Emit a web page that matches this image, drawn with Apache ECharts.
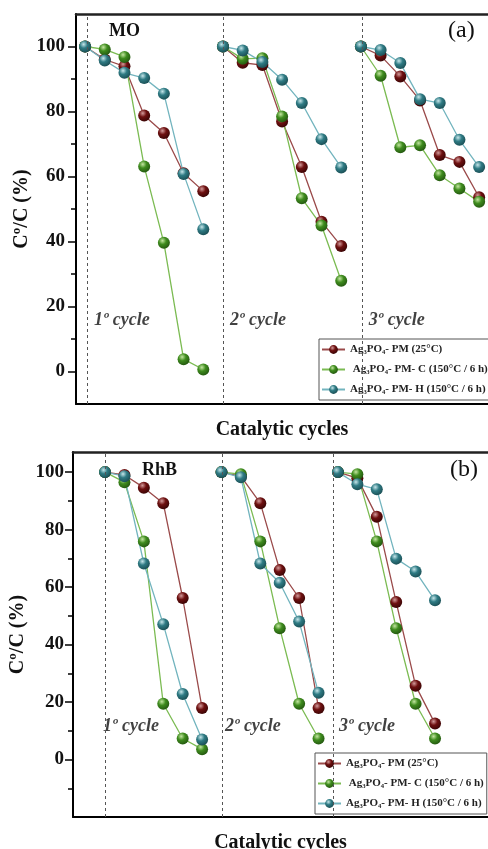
<!DOCTYPE html>
<html>
<head>
<meta charset="utf-8">
<script src="https://cdn.jsdelivr.net/npm/echarts@6/dist/echarts.min.js"></script>
<style>
html,body{margin:0;padding:0;background:#fff;}
#chart{width:488px;height:849px;}
</style>
</head>
<body>
<div id="chart"></div>
<script>
// ---------- DATA ----------
const seriesNames = ['Ag\u2083PO\u2084- PM (25\u00b0C)', ' Ag\u2083PO\u2084- PM- C (150\u00b0C / 6 h)', 'Ag\u2083PO\u2084- PM- H (150\u00b0C / 6 h)'];
const cycleLabels = ['1\u00ba cycle', '2\u00ba cycle', '3\u00ba cycle'];
const yMajorTicks = [0, 20, 40, 60, 80, 100];
const yMinorTicksTop = [10, 30, 50, 70, 90];
const yMinorTicksBottom = [-10, 10, 30, 50, 70, 90];

// Panel (a) MO — 7 points per cycle
const moPM = [[100, 96, 93.9, 78.8, 73.4, 61.0, 55.5], [100, 95.0, 94.3, 76.9, 62.9, 46.1, 38.6], [100, 97.2, 90.8, 83.4, 66.6, 64.5, 53.6]];
const moC  = [[100, 99.1, 96.8, 63.1, 39.6, 3.8, 0.6], [100, 96.2, 96.4, 78.5, 53.3, 44.9, 27.9], [100, 91.0, 69.0, 69.6, 60.4, 56.3, 52.2]];
const moH  = [[100, 95.7, 91.9, 90.3, 85.5, 60.8, 43.8], [100, 98.8, 95.2, 89.8, 82.6, 71.5, 62.8], [100, 98.9, 94.9, 83.8, 82.6, 71.3, 62.9]];

// Panel (b) RhB — 6 points per cycle
const rhbPM = [[100, 99.0, 94.6, 89.2, 56.2, 17.9], [100, 98.5, 89.2, 65.9, 56.2, 17.9], [100, 97.9, 84.5, 54.8, 25.7, 12.5]];
const rhbC  = [[100, 96.5, 75.9, 19.4, 7.3, 3.6], [100, 99.3, 75.9, 45.7, 19.4, 7.3], [100, 99.3, 75.9, 45.7, 19.4, 7.3]];
const rhbH  = [[100, 98.6, 68.2, 47.1, 22.8, 7.0], [100, 98.2, 68.2, 61.5, 48.0, 23.2], [100, 95.8, 94.0, 69.9, 65.4, 55.4]];

// ---------- BUILD ----------
const FONT = '"Liberation Serif", "Times New Roman", serif';
function buildData(cycles, n) {
  const out = [];
  cycles.forEach((vals, c) => {
    vals.forEach((v, k) => out.push([c * n + k, v]));
    if (c < cycles.length - 1) out.push([c * n + n - 0.5, '-']);
  });
  return out;
}
function sphere(base, light, dark) {
  return {type: 'radial', x: 0.38, y: 0.32, r: 0.7,
    colorStops: [{offset: 0, color: light}, {offset: 0.45, color: base}, {offset: 1, color: dark}]};
}
const styles = [
  {ball: sphere('#6e1010', '#d39a9a', '#3a0505'), line: '#9a4a4a'},
  {ball: sphere('#3f8c1e', '#c3e6a0', '#245810'), line: '#7bbb52'},
  {ball: sphere('#2f7b84', '#c6e6ea', '#1b4f55'), line: '#72b4be'}
];
function mkSeries(data, i, grid, extra) {
  return Object.assign({
    type: 'line', name: seriesNames[i], xAxisIndex: grid * 2, yAxisIndex: grid * 2,
    data: data, symbol: 'circle', symbolSize: 12, connectNulls: false,
    itemStyle: {color: styles[i].ball},
    lineStyle: {color: styles[i].line, width: 1.3},
    emphasis: {disabled: true}, animation: false
  }, extra || {});
}
const dashLine = (xs) => ({
  silent: true, symbol: 'none', label: {show: false},
  lineStyle: {type: [3, 3], color: '#555', width: 1},
  data: xs.map(x => ({xAxis: x}))
});
function labelSeries(grid, pts) {
  return {
    type: 'scatter', xAxisIndex: grid * 2, yAxisIndex: grid * 2, symbolSize: 0,
    data: pts.map((p, i) => [p[0], p[1], cycleLabels[i]]), silent: true, animation: false,
    label: {show: true, position: 'right', distance: 0, formatter: p => p.data[2],
      fontFamily: FONT, fontStyle: 'italic', fontWeight: 'bold', fontSize: 18, color: '#111'}
  };
}
function yAxes(grid, min, max, minor, gapName, margin) {
  return [{
    gridIndex: grid, type: 'value', min: min, max: max, position: 'left',
    axisLine: {show: true, onZero: false, lineStyle: {color: '#000', width: 2}},
    axisTick: {show: true, length: 8, customValues: yMajorTicks, lineStyle: {color: '#000', width: 1.5}},
    axisLabel: {customValues: yMajorTicks, fontFamily: FONT, fontWeight: 'bold', fontSize: 19, color: '#111', margin: margin},
    splitLine: {show: false},
    name: 'C\u00ba/C (%)', nameLocation: 'middle', nameGap: gapName, nameMoveOverlap: false,
    nameTextStyle: {fontFamily: FONT, fontWeight: 'bold', fontSize: 20, color: '#111'}
  }, {
    gridIndex: grid, type: 'value', min: min, max: max, position: 'left',
    axisLine: {show: false, onZero: false},
    axisTick: {show: true, length: 5, customValues: minor, lineStyle: {color: '#000', width: 1.5}},
    axisLabel: {show: false}, splitLine: {show: false}
  }];
}
function xAxes(grid, min, max) {
  return [{
    gridIndex: grid, type: 'value', min: min, max: max, position: 'bottom',
    axisLine: {show: true, onZero: false, lineStyle: {color: '#000', width: 2}},
    axisTick: {show: false}, axisLabel: {show: false}, splitLine: {show: false},
    name: 'Catalytic cycles', nameLocation: 'middle', nameGap: 16, nameMoveOverlap: false,
    nameTextStyle: {fontFamily: FONT, fontWeight: 'bold', fontSize: 20, color: '#111', verticalAlign: 'top'}
  }, {
    gridIndex: grid, type: 'value', min: min, max: max, position: 'top',
    axisLine: {show: true, onZero: false, lineStyle: {color: '#222', width: 2.5}},
    axisTick: {show: false}, axisLabel: {show: false}, splitLine: {show: false}
  }];
}
function legend(left, top) {
  return {
    orient: 'vertical', left: left, top: top, data: seriesNames,
    backgroundColor: '#fff', borderColor: '#555', borderWidth: 1, borderRadius: 0,
    padding: [5, 3, 5, 2], itemGap: 9, itemWidth: 23, itemHeight: 11,
    textStyle: {fontFamily: FONT, fontWeight: 'bold', fontSize: 11, color: '#222'},
    selectedMode: false
  };
}

const option = {
  backgroundColor: '#fff',
  animation: false,
  grid: [
    {left: 76, top: 14, right: 0, height: 390, outerBoundsMode: 'none'},
    {left: 73, top: 452, right: 0, height: 365, outerBoundsMode: 'none'}
  ],
  xAxis: [...xAxes(0, -0.46, 20.45), ...xAxes(1, -1.65, 19.73)],
  yAxis: [...yAxes(0, -10, 110, yMinorTicksTop, 44, 11), ...yAxes(1, -20, 107, yMinorTicksBottom, 45, 9)],
  legend: [legend(319, 339), legend(315, 753)],
  graphic: [
    {type: 'text', left: 109, top: 22, style: {text: 'MO', font: 'bold 18px ' + FONT, fill: '#111'}},
    {type: 'text', left: 448, top: 19, style: {text: '(a)', font: '24px ' + FONT, fill: '#111'}},
    {type: 'text', left: 142, top: 461, style: {text: 'RhB', font: 'bold 18px ' + FONT, fill: '#111'}},
    {type: 'text', left: 450, top: 458, style: {text: '(b)', font: '24px ' + FONT, fill: '#111'}}
  ],
  series: [
    mkSeries(buildData(moPM, 7), 0, 0, {markLine: dashLine([0.1, 7.0, 14.05])}),
    mkSeries(buildData(moC, 7), 1, 0),
    mkSeries(buildData(moH, 7), 2, 0),
    labelSeries(0, [[0.45, 15.7], [7.36, 15.7], [14.4, 15.7]]),
    mkSeries(buildData(rhbPM, 6), 0, 1, {markLine: dashLine([0.0, 6.05, 11.75])}),
    mkSeries(buildData(rhbC, 6), 1, 1),
    mkSeries(buildData(rhbH, 6), 2, 1),
    labelSeries(1, [[-0.1, 11.4], [6.18, 11.4], [12.06, 11.4]])
  ]
};
const chart = echarts.init(document.getElementById('chart'), null, {renderer: 'canvas'});
chart.setOption(option);
</script>
</body>
</html>
